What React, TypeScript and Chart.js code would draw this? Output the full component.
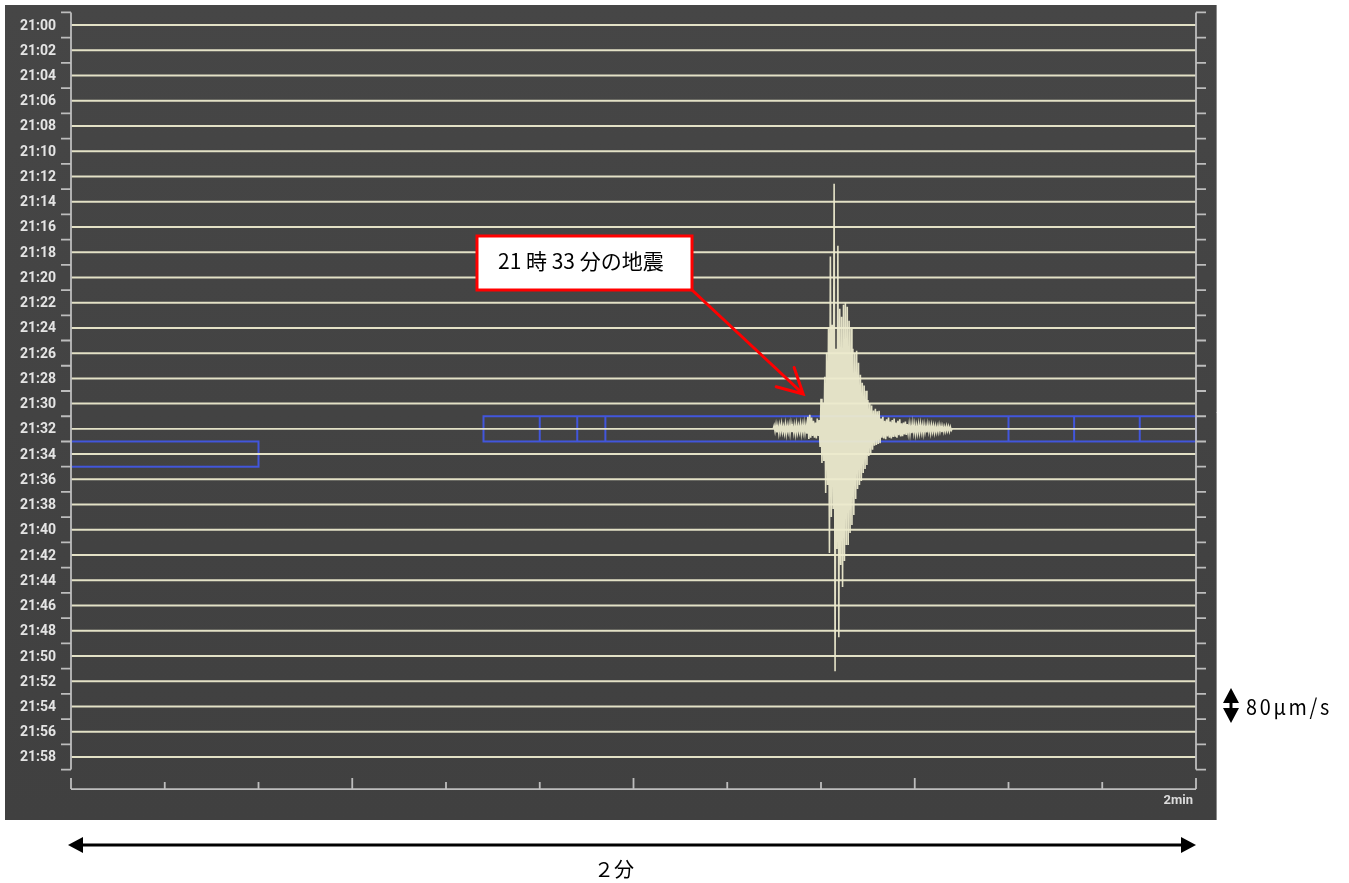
import { useEffect, useRef } from "react";
import { Chart, registerables } from "chart.js";

Chart.register(...registerables);

// ---- data ----
const ROW_LABELS = [
  "21:00", "21:02", "21:04", "21:06", "21:08", "21:10", "21:12", "21:14", "21:16", "21:18",
  "21:20", "21:22", "21:24", "21:26", "21:28", "21:30", "21:32", "21:34", "21:36", "21:38",
  "21:40", "21:42", "21:44", "21:46", "21:48", "21:50", "21:52", "21:54", "21:56", "21:58",
];
const ROW_STEP_UMS = 63; // μm/s between successive trace baselines
const X_MIN_SEC = 0;
const X_MAX_SEC = 120;
const X_TICKS_SEC = [0, 10, 20, 30, 40, 50, 60, 70, 80, 90, 100, 110, 120];
const X_MAJOR_TICKS_SEC = [0, 30, 60, 90, 120];
const X_END_LABEL = "2min";

const QUAKE_ROW = 16; // 21:32 trace
const QUAKE_START_SEC = 74.9;
const QUAKE_DT_SEC = 0.1;
const QUAKE_AMPS_UMS = [
  0,
  8, -6, 10, -9, 7, -11, 9, -7, 12, -8, 6, -10, 11, -12, 8, -7, 10, -11, 12, -8, 7, -10, 9, -12, 11, -9, 8, -7, 12, -11, 10, -8, 13, -10, 9, -12,
  30, -25, 35, -22, 28,
  -18, 20, -22, 16, -24, 26, -18, 22,
  -45, 75, -85, 65, -80,
  130, -160, 190, -140, 250,
  -310, 430, -220, 260, -200,
  612, -605, 200, -300,
  457, -520, 300, -340, 280,
  -395, 310, -330, 315, -290, 305,
  -290, 270, -260, 250, -240,
  200, -215, 190, -175, 195,
  -150, 165, -140, 135, -130,
  115, -110, 108, -100, 95, -90,
  72, -68, 64, -62, 58, -52,
  46, -42, 50, -40, 44, -38, 45, -36,
  26, -22, 30, -24, 20, -26, 24, -19, 28, -22, 18, -24, 22, -20, 26, -18, 16, -22, 20, -16, 24, -19, 14, -18, 16, -14, 18, -15,
  12, -10, 11, -12, 9, -11, 13, -9, 10, -12, 8, -10, 11, -9, 12, -8, 9, -11, 10, -8, 7, -9, 11, -7, 8, -10, 9, -7, 8, -9, 7, -8, 6, -7, 9, -6, 7, -8, 6, -7, 5, -6, 7, -5, 6, -6, 5, -4,
  0,
];

const BAND_ROWS = [17, 16];
const BAND_STARTS_SEC = [0, 44];
const BAND_ENDS_SEC = [20, 120];
const BAND_DIVIDERS_SEC = [[], [50, 54, 57, 100, 107, 114]];

const ANNOTATION_TEXT = "21 時 33 分の地震";
const ANNOTATION_TARGET_SEC = 78.1;
const ANNOTATION_TARGET_ROW = 14.62;
const SPAN_LABEL = "２分";
const SCALE_LABEL = "80μm/s";

// ---- styles ----
const TRACE_COLOR = "rgba(236,234,206,0.95)";
const AXIS_COLOR = "#bdbdbd";
const BAND_COLOR = "#4256dc";

const baseOf = (row: number) => -row * ROW_STEP_UMS;

function buildDatasets() {
  return ROW_LABELS.map((label, i) => {
    const base = baseOf(i);
    let data: { x: number; y: number }[];
    if (i === QUAKE_ROW) {
      data = [
        { x: X_MIN_SEC, y: base },
        ...QUAKE_AMPS_UMS.map((a, k) => ({ x: QUAKE_START_SEC + k * QUAKE_DT_SEC, y: base + a })),
        { x: X_MAX_SEC, y: base },
      ];
    } else {
      data = [
        { x: X_MIN_SEC, y: base },
        { x: X_MAX_SEC, y: base },
      ];
    }
    return {
      label,
      data,
      borderColor: TRACE_COLOR,
      borderWidth: i === QUAKE_ROW ? 1.6 : 2,
      pointRadius: 0,
      tension: 0,
      fill: false,
    };
  });
}

function arrowHead(ctx: CanvasRenderingContext2D, tx: number, ty: number, angle: number, len: number, half: number) {
  ctx.beginPath();
  ctx.moveTo(tx, ty);
  ctx.lineTo(tx - len * Math.cos(angle) + half * Math.sin(angle), ty - len * Math.sin(angle) - half * Math.cos(angle));
  ctx.lineTo(tx - len * Math.cos(angle) - half * Math.sin(angle), ty - len * Math.sin(angle) + half * Math.cos(angle));
  ctx.closePath();
  ctx.fill();
}

const seisPlugin = {
  id: "seis",
  beforeDraw(chart: any) {
    const { ctx, width, height } = chart;
    ctx.save();
    ctx.fillStyle = "#ffffff";
    ctx.fillRect(0, 0, width, height);
    const g = ctx.createLinearGradient(0, 5, 0, 820);
    g.addColorStop(0, "#464646");
    g.addColorStop(1, "#404040");
    ctx.fillStyle = g;
    ctx.fillRect(5, 5, 1211, 815);
    ctx.strokeStyle = "#8c8c8c";
    ctx.lineWidth = 1;
    ctx.beginPath();
    ctx.moveTo(1216.5, 5);
    ctx.lineTo(1216.5, 820);
    ctx.stroke();
    ctx.restore();
  },
  beforeDatasetsDraw(chart: any) {
    const { ctx } = chart;
    const xs = chart.scales.x;
    const ys = chart.scales.y;
    ctx.save();
    ctx.strokeStyle = BAND_COLOR;
    ctx.lineWidth = 2;
    BAND_ROWS.forEach((row, b) => {
      const y1 = ys.getPixelForValue(baseOf(row - 0.5));
      const y2 = ys.getPixelForValue(baseOf(row + 0.5));
      const x1 = xs.getPixelForValue(BAND_STARTS_SEC[b]);
      const x2 = xs.getPixelForValue(BAND_ENDS_SEC[b]);
      ctx.strokeRect(x1, y1, x2 - x1, y2 - y1);
      BAND_DIVIDERS_SEC[b].forEach((t) => {
        const x = xs.getPixelForValue(t);
        ctx.beginPath();
        ctx.moveTo(x, y1);
        ctx.lineTo(x, y2);
        ctx.stroke();
      });
    });
    ctx.restore();
  },
  afterDraw(chart: any) {
    const { ctx, chartArea } = chart;
    const xs = chart.scales.x;
    const ys = chart.scales.y;
    const L = chartArea.left;
    const R = chartArea.right;
    const T = chartArea.top;
    const B = chartArea.bottom;
    ctx.save();

    // left & right axes with boundary ticks
    ctx.strokeStyle = AXIS_COLOR;
    ctx.lineWidth = 1.8;
    ctx.beginPath();
    ctx.moveTo(L, T);
    ctx.lineTo(L, B);
    ctx.moveTo(R, T);
    ctx.lineTo(R, B);
    for (let k = 0; k <= ROW_LABELS.length; k++) {
      const y = ys.getPixelForValue(baseOf(k - 0.5));
      ctx.moveTo(L - 10, y);
      ctx.lineTo(L, y);
      ctx.moveTo(R, y);
      ctx.lineTo(R + 10, y);
    }
    ctx.stroke();

    // row labels
    ctx.fillStyle = "#e4e4e4";
    ctx.font = "bold 14px Roboto";
    ctx.textAlign = "right";
    ctx.textBaseline = "middle";
    ROW_LABELS.forEach((lab, i) => {
      ctx.fillText(lab, 56, ys.getPixelForValue(baseOf(i)) + 1);
    });

    // bottom time axis
    const axY = B + 19.5;
    ctx.beginPath();
    ctx.moveTo(L, axY);
    ctx.lineTo(R, axY);
    X_TICKS_SEC.forEach((t) => {
      const x = xs.getPixelForValue(t);
      const major = X_MAJOR_TICKS_SEC.includes(t);
      ctx.moveTo(x, axY);
      ctx.lineTo(x, axY - (major ? 11 : 7));
    });
    ctx.stroke();
    ctx.font = "bold 13px Roboto";
    ctx.textAlign = "right";
    ctx.fillStyle = "#dcdcdc";
    ctx.fillText(X_END_LABEL, R - 3, axY + 12);

    // annotation callout
    const bx = 477, by = 236, bw = 215, bh = 54;
    ctx.fillStyle = "#ffffff";
    ctx.fillRect(bx, by, bw, bh);
    ctx.strokeStyle = "#ff0000";
    ctx.lineWidth = 3;
    ctx.strokeRect(bx, by, bw, bh);
    ctx.fillStyle = "#000000";
    ctx.font = "21px 'Noto Sans CJK JP'";
    ctx.textAlign = "left";
    ctx.textBaseline = "middle";
    ctx.fillText(ANNOTATION_TEXT, bx + 21, by + 25, 170);

    const tx = xs.getPixelForValue(ANNOTATION_TARGET_SEC);
    const ty = ys.getPixelForValue(baseOf(ANNOTATION_TARGET_ROW));
    const sx = bx + bw, sy = by + bh;
    const ang = Math.atan2(ty - sy, tx - sx);
    ctx.strokeStyle = "#ff0000";
    ctx.lineWidth = 3;
    ctx.lineCap = "round";
    ctx.beginPath();
    ctx.moveTo(sx, sy);
    ctx.lineTo(tx, ty);
    const hl = 28, ha = (28 * Math.PI) / 180;
    ctx.moveTo(tx - hl * Math.cos(ang - ha), ty - hl * Math.sin(ang - ha));
    ctx.lineTo(tx, ty);
    ctx.lineTo(tx - hl * Math.cos(ang + ha), ty - hl * Math.sin(ang + ha));
    ctx.stroke();
    ctx.lineCap = "butt";

    // span arrow (2 minutes)
    const ay = 845;
    const ax1 = L - 3, ax2 = R;
    ctx.strokeStyle = "#000";
    ctx.fillStyle = "#000";
    ctx.lineWidth = 3;
    ctx.beginPath();
    ctx.moveTo(ax1 + 10, ay);
    ctx.lineTo(ax2 - 10, ay);
    ctx.stroke();
    arrowHead(ctx, ax1, ay, Math.PI, 15, 8);
    arrowHead(ctx, ax2, ay, 0, 15, 8);
    ctx.font = "20px 'Noto Sans CJK JP'";
    ctx.textAlign = "left";
    ctx.textBaseline = "middle";
    ctx.fillText(SPAN_LABEL, 594, 869);

    // amplitude scale arrow
    const vx = 1231;
    ctx.beginPath();
    ctx.moveTo(vx, 700);
    ctx.lineTo(vx, 712);
    ctx.stroke();
    arrowHead(ctx, vx, 688, -Math.PI / 2, 15, 8);
    arrowHead(ctx, vx, 723, Math.PI / 2, 15, 8);
    ctx.font = "22px 'Noto Sans CJK JP'";
    (ctx as any).letterSpacing = "3px";
    ctx.fillText(SCALE_LABEL, 1246, 707, 86);
    (ctx as any).letterSpacing = "0px";

    ctx.restore();
  },
};

export default function App() {
  const ref = useRef<HTMLCanvasElement | null>(null);
  useEffect(() => {
    if (!ref.current) return;
    const chart = new Chart(ref.current, {
      type: "line",
      data: { datasets: buildDatasets() as any },
      options: {
        animation: false,
        responsive: false,
        devicePixelRatio: 1,
        layout: { padding: { left: 71, right: 153, top: 12.4, bottom: 113.4 } },
        scales: {
          x: { type: "linear", min: X_MIN_SEC, max: X_MAX_SEC, display: false },
          y: {
            type: "linear",
            min: baseOf(ROW_LABELS.length - 0.5),
            max: baseOf(-0.5),
            display: false,
          },
        },
        plugins: { legend: { display: false }, tooltip: { enabled: false } },
        events: [],
      },
      plugins: [seisPlugin],
    });
    return () => chart.destroy();
  }, []);
  return (
    <div style={{ position: "fixed", left: 0, top: 0, width: 1349, height: 883 }}>
      <canvas ref={ref} width={1349} height={883} style={{ display: "block" }} />
    </div>
  );
}
